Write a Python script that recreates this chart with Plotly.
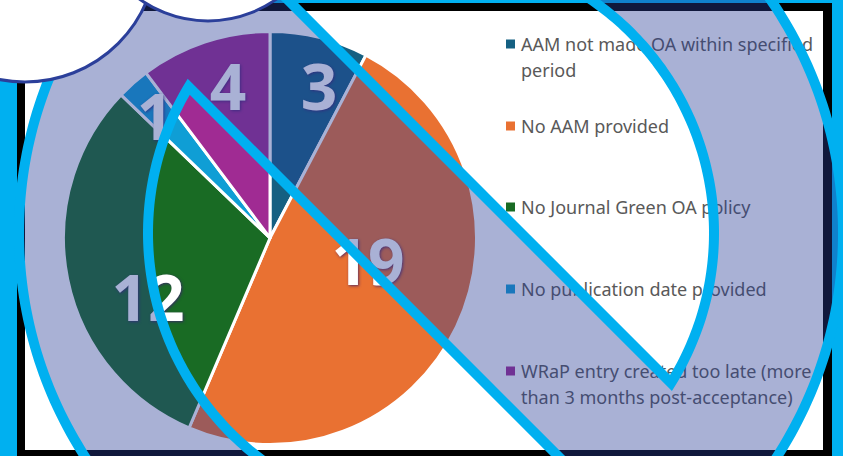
import numpy as np
import plotly.graph_objects as go

categories = ["AAM not made OA within specified period", "No AAM provided", "No Journal Green OA policy",
              "No publication date provided", "WRaP entry created too late (more than 3 months post-acceptance)"]
values = [3, 19, 12, 1, 4]
slice_colors = ["#156082", "#E97132", "#196B24", "#0F9ED5", "#A02B93"]

W, H = 843, 456
legend_marker_y = [44, 126, 207, 289, 371]
legend_lines = [["AAM not made OA within specified", "period"], ["No AAM provided"], ["No Journal Green OA policy"],
                ["No publication date provided"], ["WRaP entry created too late (more", "than 3 months post-acceptance)"]]
LINE_GAP = 26
TEXT_DY = 2
label_pos = [(319, 89), (368, 264), (148, 300), (155, 119), (228, 89)]

CYAN = "#00B0F0"
cx, cy, R_OUT, R_IN = 431, 233, 412, 283
upper, lower = 288, 102   # x - y of the two bar edges


def circle_path(r):
    t = np.linspace(0, 2 * np.pi, 361)[:-1]
    pts = " L".join(f"{cx + r * np.cos(a):.2f},{cy + r * np.sin(a):.2f}" for a in t)
    return "M" + pts + " Z"


def lens_path(c_off, upper_side):
    # chord of the inner circle along x - y = c_off
    d = (c_off - (cx - cy)) / np.sqrt(2)
    base = -np.pi / 4                      # direction of the normal towards the upper right
    half = np.arccos(abs(d) / R_IN)
    mid = base if upper_side else base + np.pi
    t = np.linspace(mid - half, mid + half, 181)
    pts = " L".join(f"{cx + R_IN * np.cos(a):.2f},{cy + R_IN * np.sin(a):.2f}" for a in t)
    return "M" + pts + " Z"


overlay_path = circle_path(R_OUT) + " " + lens_path(upper, True) + " " + lens_path(lower, False)

shapes = [
    dict(type="rect", xref="x", yref="y", x0=17, x1=832, y0=3, y1=H + 5, fillcolor="#000000", line_width=0, layer="below"),
    dict(type="rect", xref="x", yref="y", x0=25, x1=823, y0=11, y1=450, fillcolor="#FFFFFF", line_width=0, layer="below"),
]
for v, (lx, ly) in zip(values, label_pos):
    shapes.append(dict(type="rect", xref="x", yref="y", x0=lx - 40, x1=lx + 40, y0=ly - 40, y1=ly + 40,
                       fillcolor="rgba(0,0,0,0)", line_width=0, layer="above",
                       label=dict(text=str(v), textposition="middle center",
                                  font=dict(family="Noto Sans", size=64, color="#FFFFFF", weight=700,
                                            shadow="1px 1px 3px rgba(60,30,110,0.8)"))))
shapes.append(dict(type="path", xref="x", yref="y", path=overlay_path, fillrule="evenodd",
                   fillcolor="rgba(40,60,150,0.4)", line=dict(color=CYAN, width=10), layer="above"))
for ccx, ccy, r in [(25, -50, 132), (208, -97, 118)]:
    shapes.append(dict(type="circle", xref="x", yref="y", x0=ccx - r, x1=ccx + r, y0=ccy - r, y1=ccy + r,
                       fillcolor="#FFFFFF", line=dict(color="#2B3F9A", width=3), layer="above"))

fig = go.Figure()
fig.add_trace(go.Scatter(x=[510.5] * len(categories), y=legend_marker_y, mode="markers",
                         marker=dict(symbol="square", size=9, color=slice_colors), hoverinfo="skip", showlegend=False))
tx, ty, tt = [], [], []
for my, lines in zip(legend_marker_y, legend_lines):
    for i, line in enumerate(lines):
        tx.append(521)
        ty.append(my + TEXT_DY + i * LINE_GAP)
        tt.append(line)
fig.add_trace(go.Scatter(x=tx, y=ty, text=tt, mode="text", textposition="middle right",
                         textfont=dict(family="Noto Sans", size=18, color="#595959"),
                         hoverinfo="skip", showlegend=False))
fig.add_trace(go.Pie(labels=categories, values=values, sort=False, direction="clockwise", rotation=0,
                     marker=dict(colors=slice_colors, line=dict(color="#FFFFFF", width=3)),
                     textinfo="none", hoverinfo="label+value", showlegend=False,
                     domain=dict(x=[63.5 / W, 476.5 / W], y=[1 - 444.5 / H, 1 - 31.5 / H])))
fig.update_layout(
    width=W, height=H, autosize=False, margin=dict(l=0, r=0, t=0, b=0),
    paper_bgcolor=CYAN, plot_bgcolor="rgba(0,0,0,0)", shapes=shapes, showlegend=False,
    xaxis=dict(range=[0, W], visible=False, domain=[0, 1], fixedrange=True),
    yaxis=dict(range=[H, 0], visible=False, domain=[0, 1], fixedrange=True),
)
fig.write_html("out.html", config=dict(displayModeBar=False),
               post_script="document.body.style.margin='0';document.body.style.overflow='hidden';")
